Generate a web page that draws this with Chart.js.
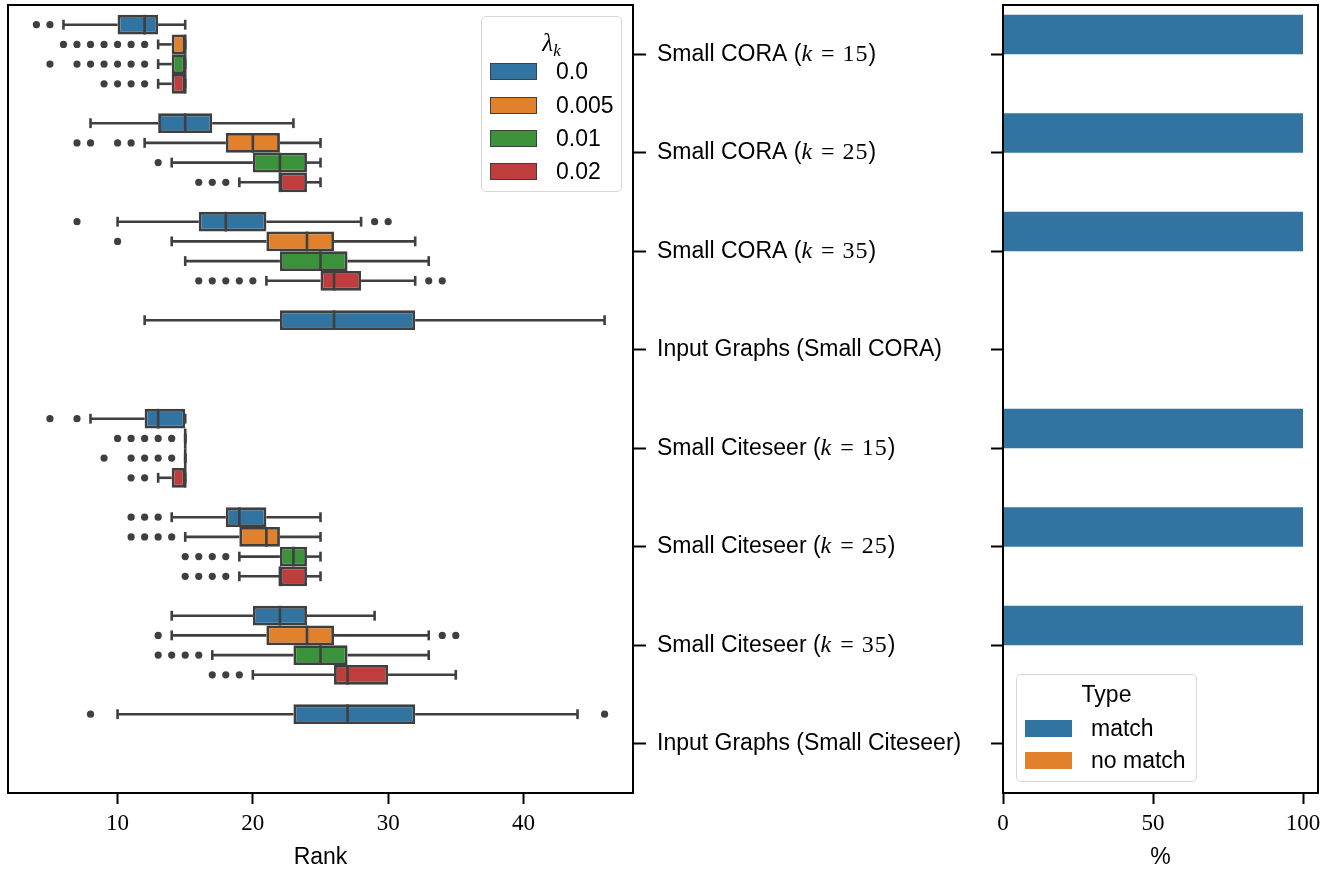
<!DOCTYPE html>
<html lang="en">
<head>
<meta charset="UTF-8">
<title>Rank boxplots and match rate</title>
<script src="https://cdn.jsdelivr.net/npm/chart.js@4.4.0/dist/chart.umd.min.js"></script>
<style>
  body { margin: 0; background: #fff; }
  #wrap { position: relative; width: 1333px; height: 869px; overflow: hidden; }
  canvas { position: absolute; top: 0; }
  #rankChart { left: 0; }
  #matchChart { left: 990px; }
  .legend {
    position: absolute; box-sizing: border-box;
    background: rgba(255,255,255,0.8);
    border: 1.5px solid #d6d6d6; border-radius: 5px;
    font-family: 'Liberation Sans', Arial, sans-serif; font-size: 23px; color: #000;
  }
  .legend .title { position: absolute; left: 0; right: 0; text-align: center; line-height: 28px; }
  .legend .row { position: absolute; height: 28px; display: flex; align-items: center; white-space: nowrap; }
  .legend .patch { width: 47px; height: 17px; box-sizing: border-box; }
  .math { font-family: 'Liberation Serif', 'DejaVu Serif', serif; font-style: italic; font-size: 25px; }
  .math sub { font-size: 17px; vertical-align: -5px; }
</style>
</head>
<body>
<div id="wrap">
  <canvas id="rankChart" width="990" height="869"></canvas>
  <canvas id="matchChart" width="343" height="869"></canvas>
  <div class="legend" id="lambdaLegend" style="left:481px; top:16px; width:141px; height:176px;">
    <div class="title" style="top:12px;"><span class="math">λ<sub>k</sub></span></div>
  </div>
  <div class="legend" id="typeLegend" style="left:1016px; top:674px; width:181px; height:108px;">
    <div class="title" style="top:5px;">Type</div>
  </div>
</div>

<script>
// categories (math parts between $)
const categories = [
  'Small CORA ($k=15$)',
  'Small CORA ($k=25$)',
  'Small CORA ($k=35$)',
  'Input Graphs (Small CORA)',
  'Small Citeseer ($k=15$)',
  'Small Citeseer ($k=25$)',
  'Small Citeseer ($k=35$)',
  'Input Graphs (Small Citeseer)'
];
const lambdas = ['0.0', '0.005', '0.01', '0.02'];
const lambdaColors = ['#3274a1', '#e1812c', '#3a923a', '#c03d3e'];

// box stats, one row per lambda, one entry per category (null = no box)
const whiskerLo = [
  [6, 8, 10, 12, 8, 14, 14, 10],
  [13, 12, 14, null, 15, 15, 14, null],
  [13, 14, 15, null, 15, 19, 17, null],
  [13, 19, 21, null, 13, 19, 20, null]
];
const q1 = [
  [10, 13, 16, 22, 12, 18, 20, 23],
  [14, 18, 21, null, 15, 19, 21, null],
  [14, 20, 22, null, 15, 22, 23, null],
  [14, 22, 25, null, 14, 22, 26, null]
];
const medians = [
  [12, 15, 18, 26, 13, 19, 22, 27],
  [15, 20, 24, null, 15, 21, 24, null],
  [15, 22, 25, null, 15, 23, 25, null],
  [15, 22, 26, null, 15, 22, 27, null]
];
const q3 = [
  [13, 17, 21, 32, 15, 21, 24, 32],
  [15, 22, 26, null, 15, 22, 26, null],
  [15, 24, 27, null, 15, 24, 27, null],
  [15, 24, 28, null, 15, 24, 30, null]
];
const whiskerHi = [
  [15, 23, 28, 46, 15, 25, 29, 44],
  [15, 25, 32, null, 15, 25, 33, null],
  [15, 25, 33, null, 15, 25, 33, null],
  [15, 25, 32, null, 15, 25, 35, null]
];
const outliers = [
  [[4, 5], [], [7, 29, 30], [], [5, 7], [11, 12, 13], [], [8, 46]],
  [[6, 7, 8, 9, 10, 11, 12], [7, 8, 10, 11], [10], [], [10, 11, 12, 13, 14], [11, 12, 13, 14], [13, 34, 35], []],
  [[5, 7, 8, 9, 10, 11, 12], [13], [], [], [9, 11, 12, 13, 14], [15, 16, 17, 18], [13, 14, 15, 16], []],
  [[9, 10, 11, 12], [16, 17, 18], [16, 17, 18, 19, 20, 33, 34], [], [11, 12], [15, 16, 17, 18], [17, 18, 19], []]
];
const rankTicks = [10, 20, 30, 40];

// right panel
const types = ['match', 'no match'];
const typeColors = ['#3274a1', '#e1812c'];
const matchPct = [100, 100, 100, null, 100, 100, 100, null];
const noMatchPct = [0, 0, 0, null, 0, 0, 0, null];
const pctTicks = [0, 50, 100];

const SANS = "'Liberation Sans', Arial, sans-serif";
const SERIF = "'Liberation Serif', 'DejaVu Serif', serif";
const EDGE = '#3f3f3f';

const plain = s => s.replace(/\$/g, '');

// black frame round the plot area
const frame = {
  id: 'frame',
  afterDraw(chart) {
    const a = chart.chartArea, ctx = chart.ctx;
    ctx.save();
    ctx.strokeStyle = '#000';
    ctx.lineWidth = 2;
    ctx.strokeRect(a.left, a.top, a.right - a.left, a.bottom - a.top);
    ctx.restore();
  }
};

// whiskers, caps, medians and fliers, placed on the floating bars
const boxWhiskers = {
  id: 'boxWhiskers',
  afterDatasetsDraw(chart) {
    const xs = chart.scales.x, ctx = chart.ctx;
    const px = v => xs.getPixelForValue(v);
    const line = (x1, y1, x2, y2) => { ctx.beginPath(); ctx.moveTo(x1, y1); ctx.lineTo(x2, y2); ctx.stroke(); };
    ctx.save();
    ctx.strokeStyle = EDGE;
    ctx.fillStyle = EDGE;
    ctx.lineWidth = 2.6;
    lambdas.forEach((_, h) => {
      const meta = chart.getDatasetMeta(h);
      categories.forEach((_, j) => {
        if (q1[h][j] == null) return;
        const bar = meta.data[j];
        const y = bar.y, half = bar.height / 2;
        line(px(whiskerLo[h][j]), y, px(q1[h][j]), y);
        line(px(q3[h][j]), y, px(whiskerHi[h][j]), y);
        line(px(whiskerLo[h][j]), y - half / 2, px(whiskerLo[h][j]), y + half / 2);
        line(px(whiskerHi[h][j]), y - half / 2, px(whiskerHi[h][j]), y + half / 2);
        line(px(medians[h][j]), y - half, px(medians[h][j]), y + half);
        outliers[h][j].forEach(v => {
          ctx.beginPath();
          ctx.arc(px(v), y, 3.6, 0, Math.PI * 2);
          ctx.fill();
        });
      });
    });
    ctx.restore();
  }
};

// category labels with a bit of math typesetting
const mathLabels = {
  id: 'mathLabels',
  afterDraw(chart) {
    const ys = chart.scales.y, ctx = chart.ctx;
    ctx.save();
    ctx.fillStyle = '#000';
    ctx.textBaseline = 'middle';
    categories.forEach((lab, i) => {
      let x = chart.chartArea.right + 24;
      const y = ys.getPixelForTick(i);
      lab.split('$').forEach((part, k) => {
        if (k % 2 === 0) {
          ctx.font = `23px ${SANS}`;
          ctx.fillText(part, x, y);
          x += ctx.measureText(part).width;
          return;
        }
        for (const ch of part) {
          if (ch === '=') {
            ctx.font = `24px ${SERIF}`;
            x += 8;
            ctx.fillText('=', x, y);
            x += ctx.measureText('=').width + 8;
          } else {
            ctx.font = /[a-z]/i.test(ch) ? `italic 24px ${SERIF}` : `24px ${SERIF}`;
            ctx.fillText(ch, x, y);
            x += ctx.measureText(ch).width + 1;
          }
        }
      });
    });
    ctx.restore();
  }
};

const boxSets = lambdas.map((lam, h) => ({
  label: lam,
  data: q1[h].map((v, j) => v == null ? null : [v, q3[h][j]]),
  backgroundColor: lambdaColors[h],
  borderColor: EDGE,
  borderWidth: 2.8,
  borderSkipped: false,
  categoryPercentage: 0.8,
  barPercentage: 1
}));

const xTitle = text => ({
  display: true, text: text, color: '#000',
  font: { family: SANS, size: 23, lineHeight: 1 },
  padding: { top: 0, bottom: 0 }
});

new Chart(document.getElementById('rankChart'), {
  type: 'bar',
  data: { labels: categories.map(plain), datasets: boxSets },
  options: {
    responsive: false,
    animation: false,
    events: [],
    indexAxis: 'y',
    layout: { padding: { left: 8, top: 5, right: 0, bottom: 0 } },
    plugins: { legend: { display: false }, tooltip: { enabled: false } },
    scales: {
      x: {
        type: 'linear', min: 1.9, max: 48.1,
        afterBuildTicks: s => { s.ticks = rankTicks.map(v => ({ value: v })); },
        afterFit: s => { s.height = 76; },
        border: { display: false },
        grid: { drawOnChartArea: false, drawTicks: true, tickLength: 11, tickWidth: 2, tickColor: '#000' },
        ticks: { color: '#000', font: { family: SERIF, size: 23 }, padding: 6, maxRotation: 0 },
        title: xTitle('Rank')
      },
      y: {
        type: 'category', position: 'right',
        afterFit: s => { s.width = 357; },
        border: { display: false },
        grid: { offset: false, drawOnChartArea: false, drawTicks: true, tickLength: 13, tickWidth: 2, tickColor: '#000' },
        ticks: { display: false }
      }
    }
  },
  plugins: [boxWhiskers, frame, mathLabels]
});

new Chart(document.getElementById('matchChart'), {
  type: 'bar',
  data: {
    labels: categories.map(plain),
    datasets: [
      { label: types[0], data: matchPct, backgroundColor: typeColors[0], borderWidth: 0, categoryPercentage: 0.8, barPercentage: 1 },
      { label: types[1], data: noMatchPct, backgroundColor: typeColors[1], borderWidth: 0, categoryPercentage: 0.8, barPercentage: 1 }
    ]
  },
  options: {
    responsive: false,
    animation: false,
    events: [],
    indexAxis: 'y',
    layout: { padding: { left: 0, top: 5, right: 15, bottom: 0 } },
    plugins: { legend: { display: false }, tooltip: { enabled: false } },
    scales: {
      x: {
        type: 'linear', min: 0, max: 105,
        afterBuildTicks: s => { s.ticks = pctTicks.map(v => ({ value: v })); },
        afterFit: s => { s.height = 76; },
        border: { display: false },
        grid: { drawOnChartArea: false, drawTicks: true, tickLength: 11, tickWidth: 2, tickColor: '#000' },
        ticks: { color: '#000', font: { family: SERIF, size: 23 }, padding: 6, maxRotation: 0 },
        title: xTitle('%')
      },
      y: {
        type: 'category', position: 'left',
        afterFit: s => { s.width = 13; },
        border: { display: false },
        grid: { offset: false, drawOnChartArea: false, drawTicks: true, tickLength: 12, tickWidth: 2, tickColor: '#000' },
        ticks: { display: false }
      }
    }
  },
  plugins: [frame]
});

// legends
function addRows(box, names, colors, rowTops, edged) {
  names.forEach((n, i) => {
    const row = document.createElement('div');
    row.className = 'row';
    row.style.left = '8px';
    row.style.top = rowTops[i] + 'px';
    const patch = document.createElement('div');
    patch.className = 'patch';
    patch.style.background = colors[i];
    if (edged) patch.style.border = '1.5px solid ' + EDGE;
    const txt = document.createElement('span');
    txt.textContent = n;
    txt.style.marginLeft = '19px';
    row.appendChild(patch);
    row.appendChild(txt);
    box.appendChild(row);
  });
}
addRows(document.getElementById('lambdaLegend'), lambdas, lambdaColors, [40, 74, 107, 140], true);
addRows(document.getElementById('typeLegend'), types, typeColors, [39, 71], false);
</script>
</body>
</html>
